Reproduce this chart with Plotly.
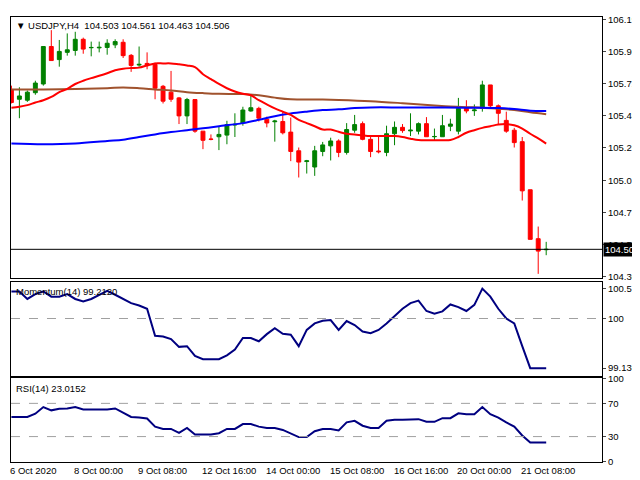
import plotly.graph_objects as go
from plotly.subplots import make_subplots

idx = list(range(1, 69))
opens = [105.679,105.607,105.600,105.655,105.719,105.994,105.898,105.951,105.965,106.047,
         105.985,105.984,105.987,106.006,106.025,105.929,105.858,105.870,105.863,105.702,
         105.659,105.617,105.485,105.605,105.373,105.315,105.332,105.344,105.418,105.433,
         105.521,105.540,105.461,105.442,105.444,105.366,105.229,105.150,105.110,105.224,
         105.265,105.301,105.217,105.380,105.428,105.313,105.227,105.217,105.354,105.401,
         105.375,105.373,105.428,105.332,105.332,105.409,105.373,105.545,105.523,105.540,
         105.712,105.559,105.452,105.380,105.296,104.943,104.584,104.503]
highs = [105.707,105.695,105.671,105.743,105.994,106.114,106.042,106.090,106.102,106.059,
         106.030,106.030,106.047,106.047,106.047,105.939,105.994,105.951,105.875,105.712,
         105.815,105.624,105.617,105.605,105.373,105.349,105.409,105.449,105.504,105.552,
         105.636,105.552,105.480,105.456,105.516,105.473,105.253,105.162,105.265,105.294,
         105.325,105.313,105.432,105.492,105.444,105.337,105.330,105.413,105.444,105.425,
         105.504,105.437,105.476,105.392,105.492,105.464,105.617,105.600,105.569,105.743,
         105.712,105.569,105.516,105.397,105.330,104.943,104.673,104.561]
lows = [105.576,105.468,105.588,105.640,105.707,105.891,105.846,105.927,105.927,105.941,
        105.922,105.951,105.934,105.982,105.910,105.808,105.846,105.827,105.607,105.576,
        105.588,105.425,105.425,105.361,105.241,105.306,105.234,105.277,105.330,105.413,
        105.516,105.444,105.401,105.296,105.349,105.153,105.033,105.062,105.045,105.189,
        105.158,105.182,105.201,105.361,105.306,105.182,105.210,105.189,105.270,105.361,
        105.337,105.349,105.332,105.301,105.330,105.373,105.349,105.504,105.485,105.516,
        105.540,105.421,105.361,105.253,104.864,104.579,104.326,104.463]
closes = [105.583,105.631,105.659,105.726,105.994,105.891,105.958,105.970,106.047,105.975,
          105.987,105.988,106.018,106.030,105.927,105.855,105.863,105.858,105.688,105.593,
          105.607,105.485,105.605,105.373,105.306,105.313,105.349,105.421,105.423,105.528,
          105.545,105.468,105.433,105.447,105.361,105.224,105.146,105.155,105.229,105.272,
          105.301,105.217,105.385,105.421,105.313,105.224,105.222,105.354,105.401,105.377,
          105.380,105.428,105.332,105.334,105.413,105.425,105.540,105.521,105.528,105.712,
          105.559,105.504,105.373,105.289,104.935,104.579,104.493,104.506]

ma_fast = [105.545,105.552,105.564,105.583,105.600,105.624,105.659,105.683,105.719,105.743,
           105.762,105.779,105.798,105.820,105.831,105.836,105.839,105.855,105.870,105.870,
           105.870,105.863,105.855,105.843,105.791,105.755,105.719,105.688,105.664,105.647,
           105.636,105.600,105.569,105.540,105.516,105.492,105.456,105.432,105.409,105.385,
           105.385,105.368,105.354,105.349,105.342,105.337,105.337,105.337,105.337,105.330,
           105.318,105.308,105.306,105.306,105.306,105.308,105.330,105.361,105.380,105.397,
           105.409,105.421,105.425,105.416,105.392,105.354,105.320,105.282]

slow_idx = [1,5,9,13,15,17,19,21,23,25,27,30,32,34,36,40,42,46,50,54,56,58,60,62,64,66,68]
ma_brown = [105.679,105.679,105.683,105.688,105.693,105.688,105.679,105.671,105.659,105.652,
            105.647,105.645,105.636,105.619,105.607,105.605,105.602,105.593,105.578,105.561,
            105.554,105.549,105.545,105.537,105.528,105.511,105.497]
blue_idx = [1,5,9,13,15,17,19,21,23,25,27,30,32,34,36,38,40,42,44,46,50,54,58,60,62,64,66,68]
ma_blue = [105.282,105.277,105.282,105.301,105.310,105.330,105.349,105.366,105.380,105.394,
           105.409,105.432,105.456,105.483,105.502,105.516,105.528,105.533,105.542,105.547,
           105.547,105.547,105.545,105.545,105.542,105.535,105.523,105.521]

momentum = [100.469,100.469,100.339,100.424,100.469,100.379,100.379,100.424,100.339,100.294,
            100.339,100.412,100.480,100.412,100.339,100.266,100.226,100.169,99.701,99.689,
            99.644,99.508,99.520,99.350,99.294,99.294,99.294,99.362,99.463,99.661,
            99.661,99.605,99.729,99.831,99.734,99.718,99.520,99.802,99.915,99.960,
            99.972,99.802,99.955,99.887,99.774,99.746,99.802,99.915,100.040,100.169,
            100.266,100.311,100.130,100.085,100.124,100.243,100.198,100.130,100.237,100.519,
            100.379,100.169,100.000,99.915,99.520,99.139,99.139,99.139]
rsi = [53.7,53.7,53.7,57.6,65.5,61.6,63.5,63.9,65.5,62.7,62.7,62.7,62.7,63.9,58.8,53.7,52.9,51.8,42.0,39.2,
       39.2,34.5,40.4,32.5,32.5,32.5,34.1,39.2,39.2,45.1,45.1,42.0,40.4,40.4,38.0,33.3,29.4,29.4,36.5,39.2,
       39.2,37.3,47.1,49.0,43.1,40.4,40.4,49.0,50.2,50.2,50.2,51.0,47.8,47.8,52.2,52.2,58.0,56.9,56.9,65.5,
       56.9,52.9,47.1,42.0,31.4,23.0,23.0,23.0]

price_ticks = [106.190,105.955,105.720,105.485,105.250,105.010,104.775,104.540,104.305]
mom_ticks = [100.5189, 100, 99.1386]
rsi_ticks = [100, 70, 30, 0]
date_idx = [1, 9, 17, 25, 33, 41, 49, 57, 65]
date_labels = ["6 Oct 2020","8 Oct 00:00","9 Oct 08:00","12 Oct 16:00","14 Oct 00:00",
               "15 Oct 08:00","16 Oct 16:00","20 Oct 00:00","21 Oct 08:00"]
last_price = 104.506

fig = make_subplots(rows=3, cols=1, shared_xaxes=True)
fig.add_trace(go.Candlestick(x=idx, open=opens, high=highs, low=lows, close=closes,
    increasing=dict(line=dict(color="#008000", width=1), fillcolor="#008000"),
    decreasing=dict(line=dict(color="#ff0000", width=1), fillcolor="#ff0000"),
    whiskerwidth=0, showlegend=False), row=1, col=1)
fig.add_trace(go.Scatter(x=slow_idx, y=ma_brown, mode="lines", line=dict(color="#a0522d", width=2, shape="spline"), showlegend=False), row=1, col=1)
fig.add_trace(go.Scatter(x=blue_idx, y=ma_blue, mode="lines", line=dict(color="#0000ff", width=2, shape="spline"), showlegend=False), row=1, col=1)
fig.add_trace(go.Scatter(x=idx, y=ma_fast, mode="lines", line=dict(color="#ff0000", width=2, shape="spline"), showlegend=False), row=1, col=1)
fig.add_trace(go.Scatter(x=idx, y=momentum, mode="lines", line=dict(color="#000080", width=2), showlegend=False), row=2, col=1)
fig.add_trace(go.Scatter(x=idx, y=rsi, mode="lines", line=dict(color="#000080", width=2), showlegend=False), row=3, col=1)

xd = [3/640, 595/640]
ax = dict(showline=True, linecolor="black", linewidth=1, mirror=True, showgrid=False, zeroline=False)
for n in (1, 2, 3):
    fig.layout[f"xaxis{'' if n==1 else n}"].update(domain=xd, range=[0.95, 75], showticklabels=False, ticks="", rangeslider=dict(visible=False), **ax)
yfont = dict(family="Liberation Sans", size=9.5, color="black")
fig.update_yaxes(domain=[1-270/480, 1-3/480], range=[104.297, 106.211], side="right", tickvals=price_ticks,
                 ticktext=[f"{v:.3f}" for v in price_ticks], ticks="outside", ticklen=3, tickfont=yfont, row=1, col=1, **ax)
fig.update_yaxes(domain=[1-370/480, 1-274/480], range=[99.011, 100.638], side="right", tickvals=mom_ticks,
                 ticktext=["100.5189","100","99.1386"], ticks="outside", ticklen=3, tickfont=yfont, row=2, col=1, **ax)
fig.update_yaxes(domain=[1-458/480, 1-373/480], range=[0, 100], side="right", tickvals=rsi_ticks,
                 ticks="outside", ticklen=3, tickfont=yfont, row=3, col=1, **ax)

fig.add_hline(y=100, line=dict(color="#a0a0a0", width=1, dash="dash"), row=2, col=1)
fig.add_hline(y=70, line=dict(color="#a0a0a0", width=1, dash="dash"), row=3, col=1)
fig.add_hline(y=30, line=dict(color="#a0a0a0", width=1, dash="dash"), row=3, col=1)
fig.add_hline(y=last_price, line=dict(color="black", width=1), row=1, col=1)

anns = [
    dict(xref="paper", yref="paper", x=6/640, y=1-4/480, xanchor="left", yanchor="top",
         text="▼ USDJPY,H4  104.503 104.561 104.463 104.506", showarrow=False, font=yfont),
    dict(xref="paper", yref="paper", x=6/640, y=1-276/480, xanchor="left", yanchor="top",
         text="Momentum(14) 99.2120", showarrow=False, font=yfont),
    dict(xref="paper", yref="paper", x=6/640, y=1-376/480, xanchor="left", yanchor="top",
         text="RSI(14) 23.0152", showarrow=False, font=yfont),
    dict(xref="paper", yref="y", x=596/640, y=last_price, xanchor="left", yanchor="middle",
         text="104.506", showarrow=False, font=dict(family="Liberation Sans", size=9.5, color="white"),
         bgcolor="black", borderpad=1),
]
for i, lab in zip(date_idx, date_labels):
    anns.append(dict(xref="x3", yref="paper", x=i, y=1-460/480, xanchor="left", yanchor="top",
                     text=lab, showarrow=False, font=yfont, xshift=-3))
fig.update_layout(width=640, height=480, margin=dict(l=0, r=0, t=0, b=0),
                  paper_bgcolor="white", plot_bgcolor="white", annotations=anns)
fig.write_html("out.html")
